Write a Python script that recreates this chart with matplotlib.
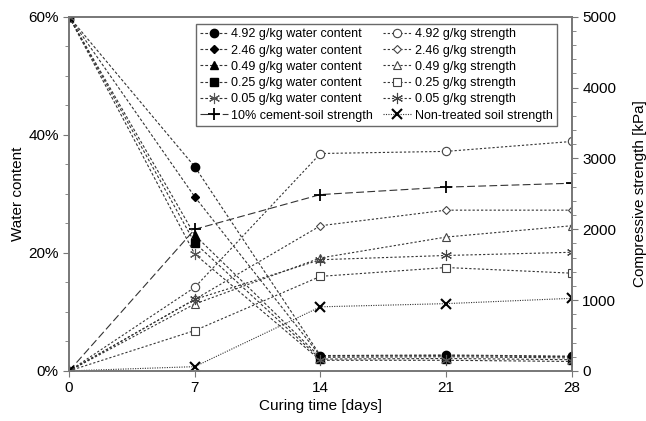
import numpy as np
import matplotlib.pyplot as plt
from matplotlib.ticker import MultipleLocator, PercentFormatter

plt.rcParams['font.family'] = ['Liberation Sans', 'DejaVu Sans']

# Datos
days = [0, 7, 14, 21, 28]

# Contenido de agua [%]
wc_492 = [60, 34.6, 2.6, 2.7, 2.5]
wc_246 = [60, 29.5, 2.5, 2.6, 2.4]
wc_049 = [60, 23.0, 2.3, 2.4, 2.2]
wc_025 = [60, 21.7, 2.0, 2.1, 1.9]
wc_005 = [60, 19.8, 1.8, 1.8, 1.6]

# Resistencia a compresion [kPa]
st_492 = [0, 1180, 3070, 3100, 3240]
st_246 = [0, 1010, 2050, 2270, 2270]
st_049 = [0, 945, 1595, 1890, 2050]
st_025 = [0, 570, 1335, 1460, 1380]
st_005 = [0, 1010, 1570, 1630, 1675]
st_cement = [0, 2000, 2490, 2595, 2650]
st_untreated = [0, 60, 905, 950, 1025]

asterisk = (6, 2, 0)
dash_w = (0, (2.5, 1.8))
dash_s = (0, (2.0, 1.8))

fig = plt.figure(figsize=(6.46, 4.21), dpi=100)
ax = fig.add_axes([0.107, 0.119, 0.778, 0.841])
ax2 = ax.twinx()

lines = []
lw = 0.8
k = 'black'
lc = '#333333'

# Contenido de agua (eje izquierdo)
lines.append(ax.plot(days, wc_492, color=lc, ls=dash_w, lw=lw, marker='o', ms=6, mfc=k, mec=k,
                     label='4.92 g/kg water content')[0])
lines.append(ax.plot(days, wc_246, color=lc, ls=dash_w, lw=lw, marker='D', ms=4.5, mfc=k, mec=k,
                     label='2.46 g/kg water content')[0])
lines.append(ax.plot(days, wc_049, color=lc, ls=dash_w, lw=lw, marker='^', ms=6, mfc=k, mec=k,
                     label='0.49 g/kg water content')[0])
lines.append(ax.plot(days, wc_025, color=lc, ls=dash_w, lw=lw, marker='s', ms=6, mfc=k, mec=k,
                     label='0.25 g/kg water content')[0])
lines.append(ax.plot(days, wc_005, color=lc, ls=dash_w, lw=lw, marker=asterisk, ms=8, mec='#555555',
                     mew=0.8, label='0.05 g/kg water content')[0])

# Resistencia (eje derecho)
st = []
st.append(ax2.plot(days, st_492, color=lc, ls=dash_s, lw=lw, marker='o', ms=6, mfc='white',
                   mec='#444444', mew=0.8, label='4.92 g/kg strength')[0])
st.append(ax2.plot(days, st_246, color=lc, ls=dash_s, lw=lw, marker='D', ms=4.5, mfc='white',
                   mec='#444444', mew=0.8, label='2.46 g/kg strength')[0])
st.append(ax2.plot(days, st_049, color=lc, ls=dash_s, lw=lw, marker='^', ms=6, mfc='white',
                   mec='#444444', mew=0.8, label='0.49 g/kg strength')[0])
st.append(ax2.plot(days, st_025, color=lc, ls=dash_s, lw=lw, marker='s', ms=6, mfc='white',
                   mec='#444444', mew=0.8, label='0.25 g/kg strength')[0])
st.append(ax2.plot(days, st_005, color=lc, ls=dash_s, lw=lw, marker=asterisk, ms=8,
                   mec='#444444', mew=0.8, label='0.05 g/kg strength')[0])
cem = ax2.plot(days, st_cement, color=lc, ls=(0, (7, 3)), lw=lw, marker='+', ms=9,
               mec=k, mew=1.3, label='10% cement-soil strength')[0]
unt = ax2.plot(days, st_untreated, color=lc, ls=(0, (1, 1.2)), lw=lw, marker='x', ms=7,
               mec=k, mew=1.5, label='Non-treated soil strength')[0]

# Ejes
ax.set_xlim(0, 28)
ax.set_ylim(0, 60)
ax2.set_ylim(0, 5000)
ax.set_xticks(days)
ax.yaxis.set_major_locator(MultipleLocator(20))
ax.yaxis.set_minor_locator(MultipleLocator(5))
ax.yaxis.set_major_formatter(PercentFormatter(decimals=0))
ax2.yaxis.set_major_locator(MultipleLocator(1000))
ax2.yaxis.set_minor_locator(MultipleLocator(200))

for a in (ax, ax2):
    for s in a.spines.values():
        s.set_color('#777777')
        s.set_linewidth(1.2)
    a.tick_params(which='both', color='#777777', labelsize=11, direction='out')
    a.tick_params(which='major', length=4)
    a.tick_params(which='minor', length=3)

ax.set_xlabel('Curing time [days]', fontsize=11, labelpad=3)
ax.set_ylabel('Water content', fontsize=11, labelpad=2)
ax2.set_ylabel('Compressive strength [kPa]', fontsize=11, labelpad=12)

handles = lines + [cem] + st + [unt]
leg = ax.legend(handles=handles, ncol=2, loc='upper left',
                bbox_to_anchor=(0.252, 0.98), fontsize=9.0, frameon=True,
                fancybox=False, edgecolor='#444444', handlelength=2.2,
                handletextpad=0.3, columnspacing=0.8, labelspacing=0.34,
                borderpad=0.35, borderaxespad=0.0)
leg.get_frame().set_linewidth(1.0)
leg.set_zorder(10)
ax.set_zorder(ax2.get_zorder() + 1)
ax.patch.set_visible(False)

fig.savefig('out.png', dpi=100)
